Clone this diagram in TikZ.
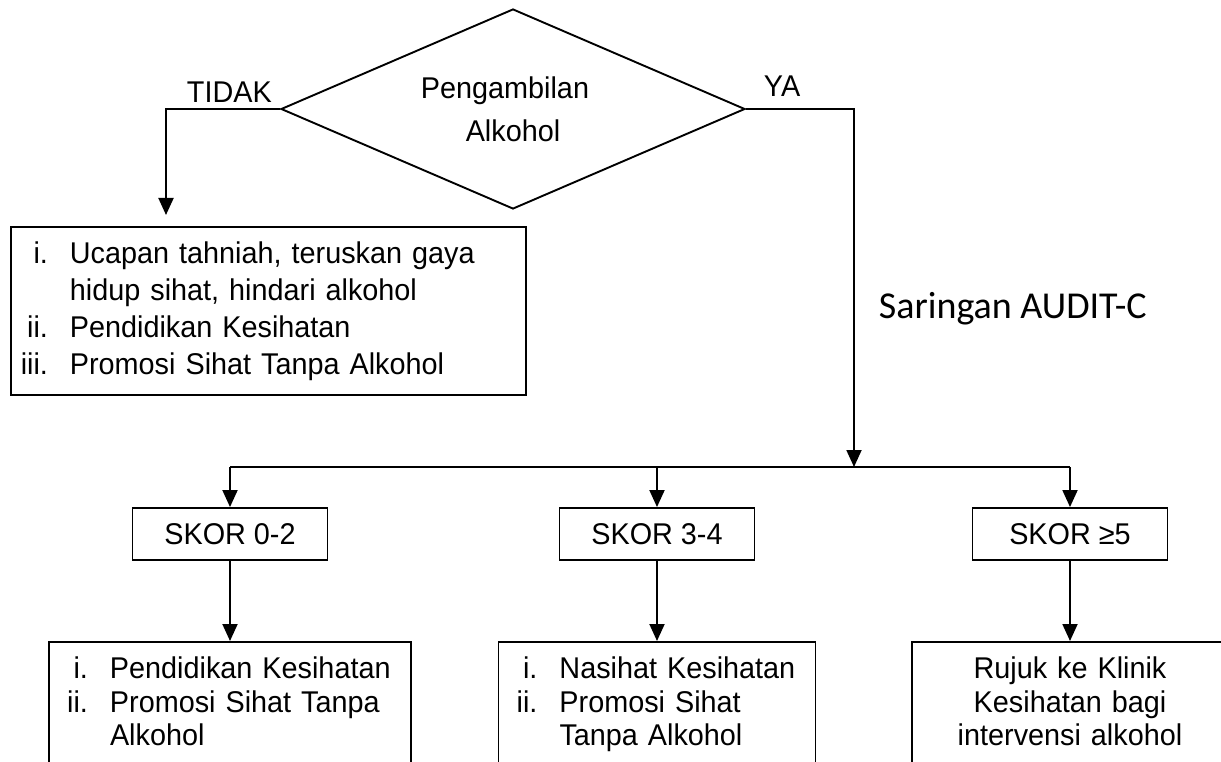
\documentclass[tikz,border=0pt]{standalone}
\usepackage{fontspec}
\setmainfont{Liberation Sans}[FakeStretch=0.96]
\newfontfamily\calibfont{Carlito}
\usetikzlibrary{shapes.geometric,arrows.meta}

% numbered list entry: right-aligned label, then the item text
\newcommand\lstitem[1]{\makebox[28pt][r]{#1}\hspace{22pt}}
\newcommand\lstcont{\hspace*{50pt}}

\begin{document}
\begin{tikzpicture}[x=1pt,y=-1pt,line width=1.9pt,
  arr/.style={-{Triangle[length=17pt,width=15pt]}},
  decision/.style={draw,diamond,shape aspect=2.32,minimum width=464pt,
    minimum height=200pt,inner sep=0pt,align=center,
    font=\fontsize{30}{43}\selectfont},
  topbox/.style={draw,rectangle,anchor=north west,inner xsep=9pt,
    text width=497pt,minimum height=168pt,align=left,
    font=\fontsize{30}{37}\selectfont},
  scorebox/.style={draw,rectangle,minimum width=195pt,minimum height=52pt,
    inner sep=0pt,font=\fontsize{30}{35}\selectfont},
  actionbox/.style={draw,rectangle,anchor=north,inner xsep=11pt,
    inner ysep=15pt,text depth=150pt,
    font=\fontsize{30}{33.5}\selectfont},
  branchlabel/.style={inner sep=0pt,anchor=base west,font=\fontsize{30}{35}\selectfont}
]
\useasboundingbox (0,0) rectangle (1221,762);
\clip (0,0) rectangle (1221,762);

% decision
\node[decision] (dia) at (513,109) {\mbox{Pengambilan\hspace{16pt}}\\Alkohol};
\node[branchlabel] (tidak) at (186,103) {TIDAK};
\node[branchlabel] (ya) at (763,97) {YA};

% "no" branch
\node[topbox] (nobox) at (10,226) {%
  \lstitem{i.}Ucapan tahniah, teruskan gaya\\
  \lstcont hidup sihat, hindari alkohol\\
  \lstitem{ii.}Pendidikan Kesihatan\\
  \lstitem{iii.}Promosi Sihat Tanpa Alkohol};
\coordinate (noend) at (166,215);
\draw[arr] (dia.west) -| (noend);

% "yes" branch down to the score bus
\node[inner sep=0pt,anchor=base west,font=\calibfont\fontsize{38}{45}\selectfont]
  (audit) at (878,318) {Saringan AUDIT-C};
\coordinate (busmid) at (854,467);
\coordinate (busL) at (230,467);
\coordinate (busR) at (1070,467);
\draw[arr] (dia.east) -| (busmid);
\draw (busL) -- (busR);

% score boxes
\node[scorebox] (s1) at (230,534) {SKOR 0-2};
\node[scorebox] (s2) at (657,534) {SKOR 3-4};
\node[scorebox] (s3) at (1070,534) {SKOR ≥5};
\draw[arr] (busL) -- (s1.north);
\draw[arr] (s2.north |- busL) -- (s2.north);
\draw[arr] (busR) -- (s3.north);

% actions per score
\node[actionbox,text width=340pt,align=left] (b1) at (230,641) {%
  \lstitem{i.}Pendidikan Kesihatan\\
  \lstitem{ii.}Promosi Sihat Tanpa\\
  \lstcont Alkohol};
\node[actionbox,text width=295pt,align=left] (b2) at (657,641) {%
  \lstitem{i.}Nasihat Kesihatan\\
  \lstitem{ii.}Promosi Sihat\\
  \lstcont Tanpa Alkohol};
\node[actionbox,text width=294pt,align=center] (b3) at (1070,641) {%
  Rujuk ke Klinik\\
  Kesihatan bagi\\
  intervensi alkohol};
\draw[arr] (s1.south) -- (b1.north);
\draw[arr] (s2.south) -- (b2.north);
\draw[arr] (s3.south) -- (b3.north);
\end{tikzpicture}
\end{document}
